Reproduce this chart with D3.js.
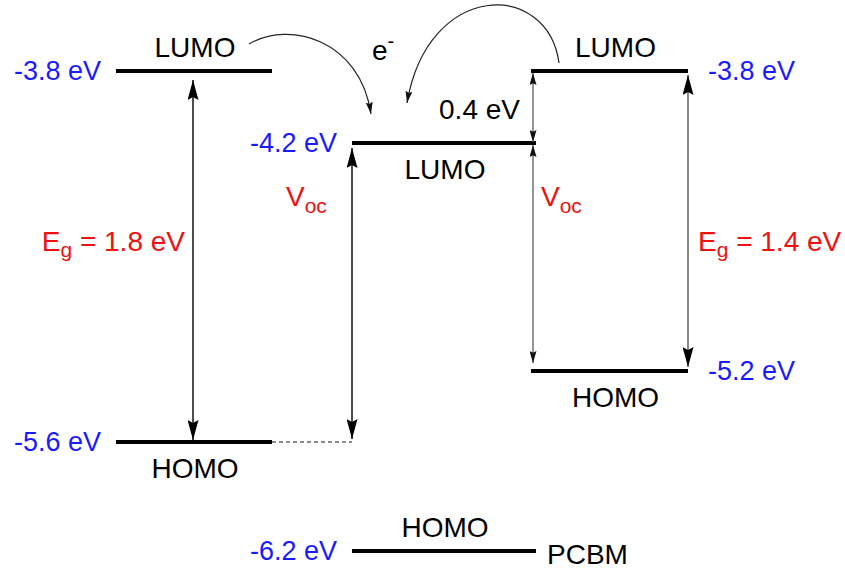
<!DOCTYPE html>
<html>
<head>
<meta charset="utf-8">
<script src="https://cdn.jsdelivr.net/npm/d3@7"></script>
<style>
  html, body { margin: 0; padding: 0; background: #fff; }
  svg { display: block; font-family: "Liberation Sans", Arial, Helvetica, sans-serif; }
</style>
</head>
<body>
<svg id="chart" width="845" height="569"></svg>
<script>
// ---------------- data ----------------
const materials = ["Donor A", "PCBM", "Donor B"];
const lumoEnergies = [-3.8, -4.2, -3.8];
const homoEnergies = [-5.6, -6.2, -5.2];
const bandGaps = [1.8, null, 1.4];
const lumoOffset = 0.4;            // LUMO(B) - LUMO(PCBM)
const levelNames = ["LUMO", "HOMO"];
const energyTicks = [-3.8, -4.2, -5.2, -5.6, -6.2];

// ---------------- layout ----------------
const svg = d3.select("#chart");
const BLUE = "#1a1aff", RED = "#ee1111", FS = 28;

// schematic (not to scale) energy axis: piecewise linear
const y = d3.scaleLinear().domain(energyTicks).range([71, 143, 371, 442, 551]);
const xStart = d3.scaleOrdinal().domain(materials).range([116, 352, 531]);
const xEnd   = d3.scaleOrdinal().domain(materials).range([272, 536, 688]);
const xMid = m => (xStart(m) + xEnd(m)) / 2;
const fmt = v => v.toFixed(1) + " eV";

// markers
const defs = svg.append("defs");
function marker(id, len, wid, color, notch) {
  defs.append("marker").attr("id", id)
    .attr("markerUnits", "userSpaceOnUse")
    .attr("viewBox", `${-len} ${-wid/2} ${len} ${wid}`)
    .attr("refX", 0).attr("refY", 0)
    .attr("markerWidth", len).attr("markerHeight", wid)
    .attr("orient", "auto-start-reverse")
    .append("path")
    .attr("d", `M0,0 L${-len},${-wid/2} L${-len*notch},0 L${-len},${wid/2} Z`)
    .attr("fill", color);
}
marker("bigHead", 20, 11, "#000", 0.85);
marker("smallHead", 12, 7, "#111", 0.85);
marker("curveHead", 12, 7, "#111", 0.85);

// levels
const levels = [];
materials.forEach((m, i) => {
  levels.push({ m, i, kind: levelNames[0], e: lumoEnergies[i] });
  levels.push({ m, i, kind: levelNames[1], e: homoEnergies[i] });
});

svg.append("g").selectAll("line").data(levels).join("line")
  .attr("x1", d => xStart(d.m)).attr("x2", d => xEnd(d.m))
  .attr("y1", d => y(d.e)).attr("y2", d => y(d.e))
  .attr("stroke", "#000").attr("stroke-width", 4);

// dashed extension of donor A HOMO
svg.append("line")
  .attr("x1", xEnd(materials[0])).attr("x2", xStart(materials[1]))
  .attr("y1", y(homoEnergies[0])).attr("y2", y(homoEnergies[0]))
  .attr("stroke", "#666").attr("stroke-width", 1.5).attr("stroke-dasharray", "4,3");

// energy value labels (blue)
const leftSide = d => d.i !== 2;
svg.append("g").selectAll("text").data(levels).join("text")
  .attr("x", d => leftSide(d) ? xStart(d.m) - 15 : xEnd(d.m) + 20)
  .attr("y", d => y(d.e) + 9)
  .attr("text-anchor", d => leftSide(d) ? "end" : "start")
  .attr("font-size", 27).attr("fill", BLUE)
  .text(d => fmt(d.e));

// level names (LUMO/HOMO)
const nameAbove = { "Donor A|LUMO": true, "Donor A|HOMO": false, "PCBM|LUMO": false, "PCBM|HOMO": true, "Donor B|LUMO": true, "Donor B|HOMO": false };
svg.append("g").selectAll("text").data(levels).join("text")
  .attr("x", d => xMid(d.m) + (d.i === 2 ? 6 : 1))
  .attr("y", d => nameAbove[d.m + "|" + d.kind] ? y(d.e) - 14 : y(d.e) + 36)
  .attr("text-anchor", "middle").attr("font-size", FS).attr("fill", "#000")
  .text(d => d.kind);

// PCBM label
svg.append("text").attr("x", xEnd(materials[1]) + 11).attr("y", y(homoEnergies[1]) + 13)
  .attr("font-size", FS).attr("fill", "#000").text(materials[1]);

// vertical arrows
const arrows = [
  { x: xMid(materials[0]) - 1, top: lumoEnergies[0], bot: homoEnergies[0], t: 9, b: 2, head: "bigHead", color: "#000" },
  { x: xStart(materials[1]), top: lumoEnergies[1], bot: homoEnergies[0], t: 5, b: 3, head: "bigHead", color: "#000" },
  { x: xStart(materials[2]) + 2, top: lumoEnergies[2], bot: lumoEnergies[1], t: 2, b: 1, head: "smallHead", color: "#666" },
  { x: xStart(materials[2]) + 2, top: lumoEnergies[1], bot: homoEnergies[2], t: 2, b: 8, head: "smallHead", color: "#666" },
  { x: xEnd(materials[2]), top: lumoEnergies[2], bot: homoEnergies[2], t: 4, b: 4, head: "bigHead", color: "#555" }
];
svg.append("g").selectAll("line").data(arrows).join("line")
  .attr("x1", d => d.x).attr("x2", d => d.x)
  .attr("y1", d => y(d.top) + d.t).attr("y2", d => y(d.bot) - d.b)
  .attr("stroke", d => d.color).attr("stroke-width", 1.4)
  .attr("marker-start", d => `url(#${d.head})`)
  .attr("marker-end", d => `url(#${d.head})`);

// curved electron-transfer arrows
const curves = [
  [[249, 44], [290, 20], [360, 40], [371, 114]],
  [[559, 63], [548, -20], [428, -20], [407, 103]]
];
svg.append("g").selectAll("path").data(curves).join("path")
  .attr("d", c => { const p = d3.path(); p.moveTo(...c[0]); p.bezierCurveTo(...c[1], ...c[2], ...c[3]); return p.toString(); })
  .attr("fill", "none").attr("stroke", "#222").attr("stroke-width", 1.2)
  .attr("marker-end", "url(#curveHead)");

// e- label
const eT = svg.append("text").attr("x", 372).attr("y", 60).attr("font-size", FS).attr("fill", "#000");
eT.append("tspan").text("e");
eT.append("tspan").attr("font-size", 20).attr("dy", -12).text("-");

// 0.4 eV
svg.append("text").attr("x", 520).attr("y", 119).attr("text-anchor", "end")
  .attr("font-size", FS).attr("fill", "#000").text(fmt(lumoOffset));

// Eg labels
function sub(sel, main, s, rest, dy) {
  sel.append("tspan").text(main);
  sel.append("tspan").attr("font-size", 21).attr("dy", dy).text(s);
  if (rest) sel.append("tspan").attr("dy", -dy).text(rest);
}
sub(svg.append("text").attr("x", 185).attr("y", 251).attr("text-anchor", "end").attr("font-size", FS).attr("fill", RED),
  "E", "g", " = " + fmt(bandGaps[0]), 6);
sub(svg.append("text").attr("x", 698).attr("y", 251).attr("font-size", FS).attr("fill", RED),
  "E", "g", " = " + fmt(bandGaps[2]), 6);

// Voc labels
sub(svg.append("text").attr("x", 286).attr("y", 206).attr("font-size", FS).attr("fill", RED), "V", "oc", null, 7);
sub(svg.append("text").attr("x", 541).attr("y", 206).attr("font-size", FS).attr("fill", RED), "V", "oc", null, 7);
</script>
</body>
</html>
